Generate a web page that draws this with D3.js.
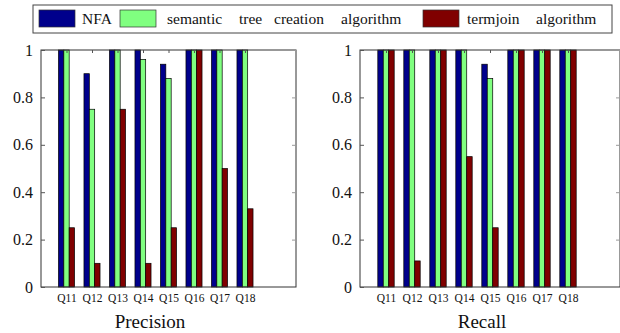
<!DOCTYPE html>
<html>
<head>
<meta charset="utf-8">
<script src="https://cdn.jsdelivr.net/npm/d3@7"></script>
<style>
body { margin:0; background:#fff; }
svg text { font-family: "Liberation Serif", "Times New Roman", serif !important; }
</style>
</head>
<body>
<script>
var width = 620, height = 333;

var queries = ["Q11","Q12","Q13","Q14","Q15","Q16","Q17","Q18"];
var seriesNames = ["NFA","semantic tree creation algorithm","termjoin algorithm"];
var colours = ["#00008c","#80ff80","#800000"];
var yTicks = [0,0.2,0.4,0.6,0.8,1];

var precNFA      = [1,0.9,1,1,0.94,1,1,1];
var precSemantic = [1,0.75,1,0.96,0.88,1,1,1];
var precTermjoin = [0.25,0.1,0.75,0.1,0.25,1,0.5,0.33];

var recNFA      = [1,1,1,1,0.94,1,1,1];
var recSemantic = [1,1,1,1,0.88,1,1,1];
var recTermjoin = [1,0.11,1,0.55,0.25,1,1,1];

var svg = d3.select("body").append("svg")
            .attr("width",width)
            .attr("height",height);

function panel(opts) {
  var x = d3.scaleLinear().domain([0,10]).range([opts.left,opts.right]);
  var y = d3.scaleLinear().domain([0,1]).range([opts.bottom,opts.top]);
  var g = svg.append("g");
  var series = [opts.a, opts.b, opts.c];
  var bw = 0.21;   // bar width in x units
  series.forEach(function(vals,s){
    g.selectAll(null)
     .data(vals)
     .enter()
     .append("rect")
     .attr("x", function(d,i){ return x(i+1 + (s-1)*bw - bw/2); })
     .attr("width", x(bw)-x(0))
     .attr("y", function(d){ return y(d); })
     .attr("height", function(d){ return y(0)-y(d); })
     .attr("fill", colours[s])
     .attr("stroke","#000")
     .attr("stroke-width",0.7);
  });

  // frame
  g.append("rect")
   .attr("x",opts.left).attr("y",opts.top)
   .attr("width",opts.right-opts.left).attr("height",opts.bottom-opts.top)
   .attr("fill","none").attr("stroke","#333").attr("stroke-width",1);

  var yAxis = d3.axisLeft(y).tickValues(yTicks)
                .tickFormat(function(d){ return d; })
                .tickSizeInner(-4).tickSizeOuter(0).tickPadding(8);
  var ya = g.append("g").attr("transform","translate("+opts.left+",0)").call(yAxis);
  ya.select(".domain").remove();
  ya.selectAll("line").attr("stroke","#555");
  ya.selectAll("text").attr("font-size","16px").attr("fill","#111");

  var yr = d3.axisRight(y).tickValues(yTicks).tickFormat("").tickSizeInner(-4).tickSizeOuter(0);
  var yra = g.append("g").attr("transform","translate("+opts.right+",0)").call(yr);
  yra.select(".domain").remove();
  yra.selectAll("line").attr("stroke","#999");

  var xAxis = d3.axisBottom(x).tickValues(d3.range(1,9))
                .tickFormat(function(d){ return queries[d-1]; })
                .tickSizeInner(0).tickSizeOuter(0).tickPadding(7);
  var xa = g.append("g").attr("transform","translate(0,"+opts.bottom+")").call(xAxis);
  xa.select(".domain").remove();
  xa.selectAll("text").attr("font-size","11.5px").attr("fill","#111");

  var xt = d3.axisTop(x).tickValues(d3.range(1,9)).tickFormat("").tickSizeInner(-3).tickSizeOuter(0);
  var xta = g.append("g").attr("transform","translate(0,"+opts.top+")").call(xt);
  xta.select(".domain").remove();
  xta.selectAll("line").attr("stroke","#555");

  g.append("text")
   .attr("x",opts.titleX).attr("y",328)
   .attr("text-anchor","middle")
   .attr("font-size","19px")
   .attr("fill","#111")
   .text(opts.title);
}

panel({left:41, right:296, top:50, bottom:287, a:precNFA, b:precSemantic, c:precTermjoin, title:"Precision", titleX:150});
panel({left:360, right:620, top:50, bottom:287, a:recNFA, b:recSemantic, c:recTermjoin, title:"Recall", titleX:482});

// legend
var leg = svg.append("g");
leg.append("rect").attr("x",33).attr("y",5).attr("width",579).attr("height",28)
   .attr("fill","#fff").attr("stroke","#444").attr("stroke-width",1);
var swatchX = [39,120,423];
var wordX = [[82],[167,239,274,341],[467,536]];   // words are spread out in the original legend
seriesNames.forEach(function(n,i){
  leg.append("rect").attr("x",swatchX[i]).attr("y",10).attr("width",36).attr("height",17)
     .attr("fill",colours[i]).attr("stroke","#333").attr("stroke-width",0.7);
  n.split(" ").forEach(function(w,j){
    leg.append("text").attr("x",wordX[i][j]).attr("y",24)
       .attr("font-size","15.5px").attr("fill","#111")
       .text(w);
  });
});
</script>
</body>
</html>
